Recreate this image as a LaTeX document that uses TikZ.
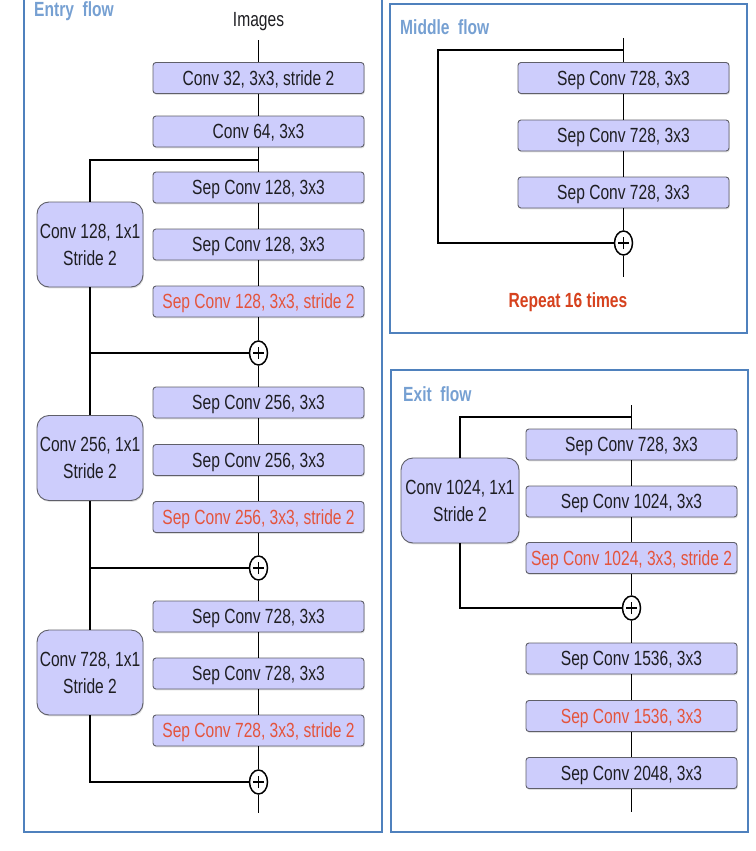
\documentclass[tikz,border=0pt]{standalone}
\usepackage{fontspec}
\usepackage{graphicx}
\setmainfont{Liberation Sans}
\usetikzlibrary{shapes.geometric,shadows}

% condensed lettering used throughout the figure
\newcommand{\sq}[1]{\scalebox{0.76}[1]{#1}}

\definecolor{boxfill}{RGB}{205,205,252}
\definecolor{boxline}{RGB}{95,95,105}
\definecolor{redtxt}{RGB}{228,84,60}
\definecolor{repeatcol}{RGB}{214,66,30}
\definecolor{framecol}{RGB}{79,129,189}
\definecolor{labelcol}{RGB}{118,160,210}
\definecolor{inkcol}{RGB}{30,30,34}

\tikzset{
  layer/.style={draw=boxline, fill=boxfill, rounded corners=3pt,
    minimum width=211pt, minimum height=31pt, inner sep=0pt,
    text height=14.5pt, text depth=0pt,
    line width=0.9pt, font=\fontsize{20.5}{22}\selectfont, text=inkcol,
    drop shadow={shadow xshift=0.8pt, shadow yshift=-1.4pt, opacity=0.25}},
  redlayer/.style={layer, text=redtxt},
  side/.style={layer, minimum width=106pt, minimum height=85pt,
    text height=, text depth=,
    rounded corners=12pt, align=center, font=\fontsize{20.5}{27}\selectfont},
  add/.style={ellipse, draw, line width=1.5pt, fill=white,
    minimum width=18pt, minimum height=24pt, inner sep=0pt,
    path picture={
      \draw[line width=1.5pt]
        ([xshift=-5.5pt]path picture bounding box.center) --
        ([xshift=5.5pt]path picture bounding box.center)
        ([yshift=-6pt]path picture bounding box.center) --
        ([yshift=6pt]path picture bounding box.center);}},
  flow/.style={line width=1.3pt},
  skipline/.style={line width=2pt},
  frame/.style={draw=framecol, line width=1.8pt},
  flowlabel/.style={anchor=west, text=labelcol, inner sep=0pt,
    font=\fontsize{20.5}{22}\selectfont\bfseries},
}

\begin{document}
\begin{tikzpicture}[x=1pt, y=-1pt]
\useasboundingbox (0,0) rectangle (755,851);
\clip (0,0) rectangle (755,851);

% ---------------- frames ----------------
\draw[frame] (24,-10) rectangle (382,832);
\draw[frame] (390,4) rectangle (747,333);
\draw[frame] (391,370) rectangle (748,832);

\node[flowlabel] (lblEntry) at (34,11) {\sq{Entry\hspace{0.55em}flow}};
\node[flowlabel] (lblMiddle) at (400,27) {\sq{Middle\hspace{0.55em}flow}};
\node[flowlabel] (lblExit) at (403,394) {\sq{Exit\hspace{0.55em}flow}};

% ---------------- entry flow ----------------
\node[font=\fontsize{20.5}{22}\selectfont, text=inkcol, inner xsep=2pt, inner ysep=9pt]
  (img) at (258.5,22) {\sq{Images}};
\node[layer] (c32) at (258.5,78) {\sq{Conv 32, 3x3, stride 2}};
\node[layer] (c64) at (258.5,131.5) {\sq{Conv 64, 3x3}};

\node[layer] (s1a) at (258.5,187.5) {\sq{Sep Conv 128, 3x3}};
\node[layer] (s1b) at (258.5,244.5) {\sq{Sep Conv 128, 3x3}};
\node[redlayer] (s1c) at (258.5,301.5) {\sq{Sep Conv 128, 3x3, stride 2}};
\node[add] (p1) at (258.5,353) {};
\node[side] (L1) at (90,244.5) {\sq{Conv 128, 1x1}\\\sq{Stride 2}};

\node[layer] (s2a) at (258.5,402.5) {\sq{Sep Conv 256, 3x3}};
\node[layer] (s2b) at (258.5,460) {\sq{Sep Conv 256, 3x3}};
\node[redlayer] (s2c) at (258.5,517) {\sq{Sep Conv 256, 3x3, stride 2}};
\node[add] (p2) at (258.5,568) {};
\node[side] (L2) at (90,458) {\sq{Conv 256, 1x1}\\\sq{Stride 2}};

\node[layer] (s3a) at (258.5,616.5) {\sq{Sep Conv 728, 3x3}};
\node[layer] (s3b) at (258.5,673.5) {\sq{Sep Conv 728, 3x3}};
\node[redlayer] (s3c) at (258.5,730.5) {\sq{Sep Conv 728, 3x3, stride 2}};
\node[add] (p3) at (258.5,782) {};
\node[side] (L3) at (90,672.5) {\sq{Conv 728, 1x1}\\\sq{Stride 2}};

\coordinate (b1) at (258.5,160);
\coordinate (eEnd) at (258.5,813);

\draw[flow] (img) -- (c32) -- (c64) -- (s1a) -- (s1b) -- (s1c) -- (p1)
  -- (s2a) -- (s2b) -- (s2c) -- (p2) -- (s3a) -- (s3b) -- (s3c) -- (p3) -- (eEnd);
\draw[skipline] (b1) -| (L1);
\draw[skipline] (L1) |- (p1);
\draw[skipline] (p1) -| (L2);
\draw[skipline] (L2) |- (p2);
\draw[skipline] (p2) -| (L3);
\draw[skipline] (L3) |- (p3);

% ---------------- middle flow ----------------
\coordinate (mTop) at (623.5,38);
\coordinate (mBranch) at (623.5,50);
\coordinate (mCorner) at (438,50);
\coordinate (mEnd) at (623.5,277);
\node[layer] (m1) at (623.5,78) {\sq{Sep Conv 728, 3x3}};
\node[layer] (m2) at (623.5,135.5) {\sq{Sep Conv 728, 3x3}};
\node[layer] (m3) at (623.5,192.5) {\sq{Sep Conv 728, 3x3}};
\node[add] (mp) at (623.5,243) {};

\draw[flow] (mTop) -- (m1) -- (m2) -- (m3) -- (mp) -- (mEnd);
\draw[skipline] (mBranch) -- (mCorner) |- (mp);

\node[text=repeatcol, font=\fontsize{20.5}{22}\selectfont\bfseries]
  (rep) at (568,302) {\sq{Repeat 16 times}};

% ---------------- exit flow ----------------
\coordinate (xTop) at (631.5,405);
\coordinate (xBranch) at (631.5,417);
\coordinate (xEnd) at (631.5,812);
\node[layer] (x1) at (631.5,444.5) {\sq{Sep Conv 728, 3x3}};
\node[layer] (x2) at (631.5,501.5) {\sq{Sep Conv 1024, 3x3}};
\node[redlayer] (x3) at (631.5,558) {\sq{Sep Conv 1024, 3x3, stride 2}};
\node[add] (xp) at (631.5,608) {};
\node[side, minimum width=118pt] (XL) at (460,500.5) {\sq{Conv 1024, 1x1}\\\sq{Stride 2}};
\node[layer] (x4) at (631.5,658.5) {\sq{Sep Conv 1536, 3x3}};
\node[redlayer] (x5) at (631.5,716) {\sq{Sep Conv 1536, 3x3}};
\node[layer] (x6) at (631.5,773) {\sq{Sep Conv 2048, 3x3}};

\draw[flow] (xTop) -- (x1) -- (x2) -- (x3) -- (xp) -- (x4) -- (x5) -- (x6) -- (xEnd);
\draw[skipline] (xBranch) -| (XL);
\draw[skipline] (XL) |- (xp);
\end{tikzpicture}
\end{document}
